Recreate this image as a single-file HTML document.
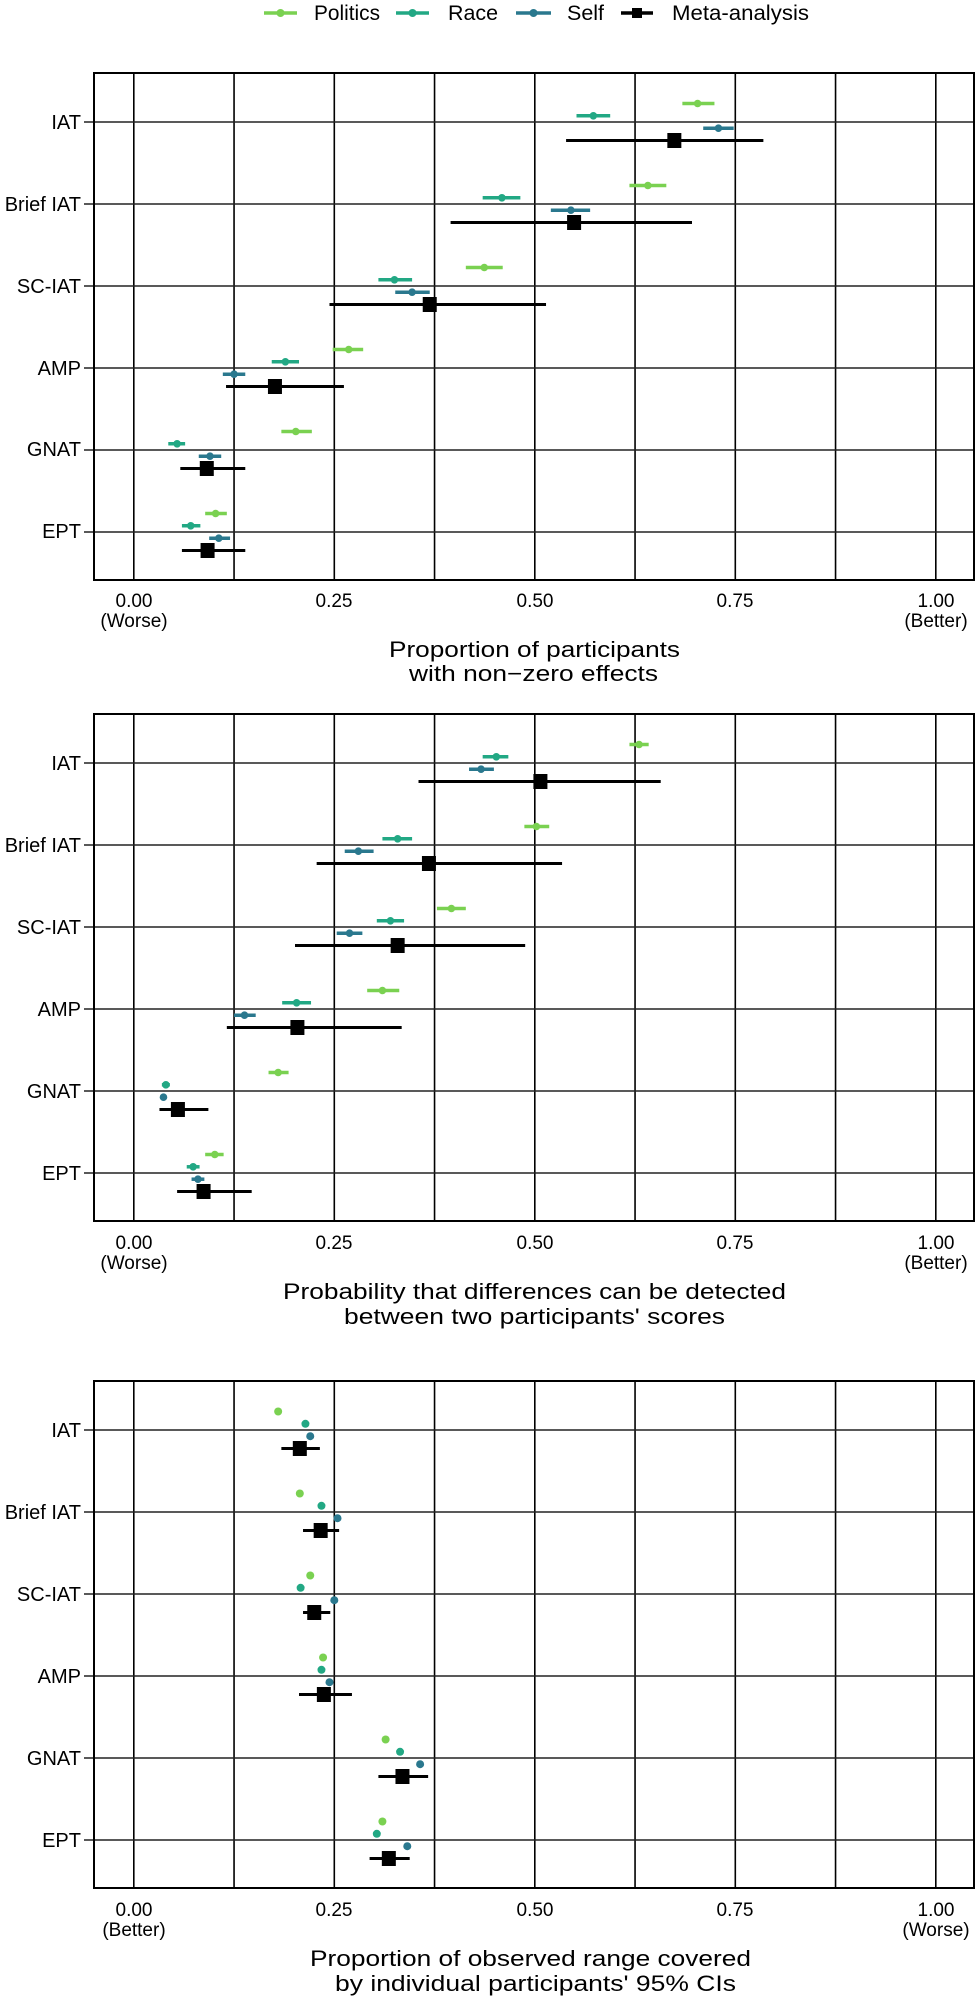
<!DOCTYPE html>
<html><head><meta charset="utf-8"><style>
html,body{margin:0;padding:0;background:#fff;}
svg{display:block;}
text{font-family:"Liberation Sans",Arial,sans-serif;fill:#000;}
</style></head><body>
<svg id="s" width="976" height="2000" viewBox="0 0 976 2000" xmlns="http://www.w3.org/2000/svg">
<rect width="976" height="2000" fill="#fff"/>
<g id="shapes"></g>
<!-- legend -->
<g font-size="21">
<line x1="264" y1="13" x2="297" y2="13" stroke="#7AD151" stroke-width="3.5"/><circle cx="280.5" cy="13" r="4" fill="#7AD151"/>
<text x="314" y="20" textLength="66" lengthAdjust="spacingAndGlyphs">Politics</text>
<line x1="396" y1="13" x2="429" y2="13" stroke="#22A884" stroke-width="3.5"/><circle cx="412.5" cy="13" r="4" fill="#22A884"/>
<text x="448" y="20" textLength="50" lengthAdjust="spacingAndGlyphs">Race</text>
<line x1="516" y1="13" x2="551" y2="13" stroke="#2A788E" stroke-width="3.5"/><circle cx="533.5" cy="13" r="4" fill="#2A788E"/>
<text x="567" y="20" textLength="37" lengthAdjust="spacingAndGlyphs">Self</text>
<line x1="621" y1="13" x2="653" y2="13" stroke="#000" stroke-width="3.5"/><rect x="632" y="8" width="10" height="10" fill="#000"/>
<text x="672" y="20" textLength="137" lengthAdjust="spacingAndGlyphs">Meta-analysis</text>
</g>
<!-- Panel 1 labels -->
<g font-size="20" text-anchor="end">
<text x="81" y="129">IAT</text><text x="81" y="211">Brief IAT</text><text x="81" y="293">SC-IAT</text><text x="81" y="375">AMP</text><text x="81" y="456">GNAT</text><text x="81" y="538">EPT</text>
<text x="81" y="770">IAT</text><text x="81" y="852">Brief IAT</text><text x="81" y="934">SC-IAT</text><text x="81" y="1016">AMP</text><text x="81" y="1098">GNAT</text><text x="81" y="1180">EPT</text>
<text x="81" y="1437">IAT</text><text x="81" y="1519">Brief IAT</text><text x="81" y="1601">SC-IAT</text><text x="81" y="1683">AMP</text><text x="81" y="1765">GNAT</text><text x="81" y="1847">EPT</text>
</g>
<g font-size="19" text-anchor="middle">
<text x="134" y="607">0.00</text><text x="334" y="607">0.25</text><text x="535" y="607">0.50</text><text x="735" y="607">0.75</text><text x="936" y="607">1.00</text>
<text x="134" y="627">(Worse)</text><text x="936" y="627">(Better)</text>
<text x="134" y="1249">0.00</text><text x="334" y="1249">0.25</text><text x="535" y="1249">0.50</text><text x="735" y="1249">0.75</text><text x="936" y="1249">1.00</text>
<text x="134" y="1269">(Worse)</text><text x="936" y="1269">(Better)</text>
<text x="134" y="1916">0.00</text><text x="334" y="1916">0.25</text><text x="535" y="1916">0.50</text><text x="735" y="1916">0.75</text><text x="936" y="1916">1.00</text>
<text x="134" y="1936">(Better)</text><text x="936" y="1936">(Worse)</text>
</g>
<g font-size="22">
<text x="389" y="657" textLength="291" lengthAdjust="spacingAndGlyphs">Proportion of participants</text>
<text x="409" y="681" textLength="249" lengthAdjust="spacingAndGlyphs">with non−zero effects</text>
<text x="283" y="1299" textLength="503" lengthAdjust="spacingAndGlyphs">Probability that differences can be detected</text>
<text x="344" y="1324" textLength="381" lengthAdjust="spacingAndGlyphs">between two participants' scores</text>
<text x="310" y="1966" textLength="441" lengthAdjust="spacingAndGlyphs">Proportion of observed range covered</text>
<text x="335" y="1991" textLength="401" lengthAdjust="spacingAndGlyphs">by individual participants' 95% CIs</text>
</g>
</svg>
<script>
(function(){
var g=document.getElementById('shapes'),NS='http://www.w3.org/2000/svg';
function el(t,a){var e=document.createElementNS(NS,t);for(var k in a)e.setAttribute(k,a[k]);g.appendChild(e);return e;}
function X(v){return 133.8+802*v;}
var C=['#7AD151','#22A884','#2A788E','#000'];
var off=[-18.5,-6.2,6.2,18.5];
// [v,lo,hi] per category: politics, race, self, meta
var P=[
 {top:73,iat:122,ci:true,d:[
  [[.703,.684,.724],[.573,.552,.594],[.729,.710,.748],[.674,.539,.785]],
  [[.641,.618,.664],[.459,.435,.482],[.545,.520,.569],[.549,.395,.696]],
  [[.437,.414,.460],[.325,.305,.347],[.347,.326,.369],[.369,.244,.514]],
  [[.268,.248,.286],[.189,.172,.206],[.125,.111,.139],[.176,.115,.262]],
  [[.202,.184,.222],[.054,.043,.064],[.095,.081,.109],[.091,.058,.139]],
  [[.102,.089,.116],[.071,.060,.083],[.106,.094,.120],[.092,.060,.139]]]},
 {top:714,iat:763,ci:true,d:[
  [[.630,.618,.642],[.452,.435,.467],[.433,.418,.449],[.507,.355,.657]],
  [[.502,.487,.518],[.329,.310,.347],[.280,.263,.299],[.368,.228,.534]],
  [[.396,.378,.414],[.320,.303,.337],[.269,.253,.285],[.329,.201,.488]],
  [[.310,.291,.331],[.203,.185,.221],[.138,.125,.152],[.204,.116,.334]],
  [[.180,.168,.193],[.040,.035,.045],[.037,.033,.041],[.055,.032,.093]],
  [[.101,.089,.112],[.074,.066,.082],[.080,.072,.088],[.087,.054,.147]]]},
 {top:1381,iat:1430,ci:false,d:[
  [[.180],[.214],[.220],[.207,.184,.232]],
  [[.207],[.234],[.254],[.233,.211,.256]],
  [[.220],[.208],[.250],[.225,.211,.245]],
  [[.236],[.234],[.244],[.237,.206,.272]],
  [[.314],[.332],[.357],[.335,.305,.367]],
  [[.310],[.303],[.341],[.318,.294,.344]]]}
];
P.forEach(function(p){
 var bot=p.iat+410+48;
 [0.125,0.375,0.625,0.875,0,0.25,0.5,0.75,1].forEach(function(v){el('line',{x1:X(v),x2:X(v),y1:p.top,y2:bot,stroke:'#000','stroke-width':1.6});});
 for(var i=0;i<6;i++){var y=p.iat+82*i;el('line',{x1:84,x2:975,y1:y,y2:y,stroke:'#222','stroke-width':1.6});}
 el('rect',{x:94,y:p.top,width:880,height:bot-p.top,fill:'none',stroke:'#000','stroke-width':2});
 p.d.forEach(function(cat,i){
  var yc=p.iat+82*i;
  cat.forEach(function(s,j){
   var y=yc+off[j];
   if(j<3){
    if(s.length>1)el('line',{x1:X(s[1]),x2:X(s[2]),y1:y,y2:y,stroke:C[j],'stroke-width':3.5});
    el('circle',{cx:X(s[0]),cy:y,r:p.ci?3.8:4,fill:C[j]});
   } else {
    el('line',{x1:X(s[1]),x2:X(s[2]),y1:y,y2:y,stroke:'#000','stroke-width':3});
    el('rect',{x:X(s[0])-7,y:y-7.5,width:14,height:15,fill:'#000'});
   }
  });
 });
});
})();
</script>
</body></html>
